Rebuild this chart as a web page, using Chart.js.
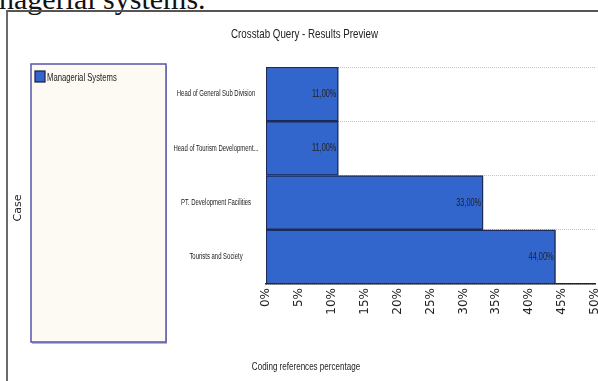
<!DOCTYPE html>
<html>
<head>
<meta charset="utf-8">
<script src="https://cdn.jsdelivr.net/npm/chart.js@4.4.0/dist/chart.umd.min.js"></script>
<style>
  body { margin: 0; background: #fff; width: 598px; height: 381px; overflow: hidden; position: relative; }
  #heading { position: absolute; left: -1px; top: -16px; font: 30px/30px 'Liberation Serif', serif; color: #111; white-space: nowrap; }
  #frame { position: absolute; left: 6px; top: 10px; width: 600px; height: 380px; border-left: 2px solid #6a6a6a; border-top: 2px solid #555; }
  #chart { position: absolute; left: 0; top: 0; }
</style>
</head>
<body>
<div id="heading">nagerial systems.</div>
<div id="frame"></div>
<canvas id="chart" width="598" height="381"></canvas>
<script>
let cases = [
    'Head of General Sub Division',
    'Head of Tourism Development...',
    'PT. Development Facilities',
    'Tourists and Society'
];
let managerialSystems = [11, 11, 33, 44];
let percentTicks = [0, 5, 10, 15, 20, 25, 30, 35, 40, 45, 50];

let chartTitle = 'Crosstab Query - Results Preview';
let xTitle = 'Coding references percentage';
let yTitle = 'Case';
let seriesName = 'Managerial Systems';

let barBlue = '#3366cc';
let barEdge = '#1e2b58';
let textColor = '#222';

// condensed text: no narrow font installed, so squeeze Liberation Sans horizontally
function narrowText(ctx, text, x, y, size, squeeze, align) {
    ctx.save();
    ctx.translate(x, y);
    ctx.scale(squeeze, 1);
    ctx.font = size + 'px "Liberation Sans", Arial, sans-serif';
    ctx.textAlign = align;
    ctx.fillStyle = textColor;
    ctx.fillText(text, 0, 0);
    ctx.restore();
}

// legend panel, titles and category names
let decorations = {
    id: 'decorations',
    beforeDraw(chart) {
        let ctx = chart.ctx;
        ctx.save();
        ctx.shadowColor = 'rgba(90, 90, 170, 0.45)';
        ctx.shadowOffsetX = 1;
        ctx.shadowOffsetY = 2;
        ctx.fillStyle = '#fdf9f3';
        ctx.fillRect(31, 64, 135, 278);
        ctx.shadowColor = 'transparent';
        ctx.strokeStyle = '#5656a8';
        ctx.lineWidth = 1.5;
        ctx.strokeRect(31, 64, 135, 278);

        ctx.fillStyle = barBlue;
        ctx.fillRect(35, 71, 10, 11);
        ctx.strokeStyle = '#1a1a40';
        ctx.lineWidth = 1.2;
        ctx.strokeRect(35, 71, 10, 11);
        ctx.restore();

        ctx.textBaseline = 'alphabetic';
        narrowText(ctx, seriesName, 47, 81, 11, 0.7, 'left');
        narrowText(ctx, chartTitle, 304.5, 38, 13, 0.75, 'center');
        narrowText(ctx, xTitle, 306, 369.5, 11.5, 0.7, 'center');

        // category names centred left of the bars
        let yScale = chart.scales.y;
        ctx.textBaseline = 'middle';
        cases.forEach((name, i) => {
            narrowText(ctx, name, 216, yScale.getPixelForValue(i), 8.5, 0.7, 'center');
        });

        // vertical axis caption
        ctx.save();
        ctx.translate(18, 208);
        ctx.rotate(-Math.PI / 2);
        ctx.fillStyle = textColor;
        ctx.font = '11px "DejaVu Sans", sans-serif';
        ctx.textAlign = 'center';
        ctx.textBaseline = 'middle';
        ctx.fillText(yTitle, 0, 0);
        ctx.restore();
    }
};

// percentage written at the end of each bar
let barValues = {
    id: 'barValues',
    afterDatasetsDraw(chart) {
        let ctx = chart.ctx;
        let meta = chart.getDatasetMeta(0);
        ctx.save();
        ctx.textBaseline = 'middle';
        meta.data.forEach((bar, i) => {
            let text = managerialSystems[i].toFixed(2).replace('.', ',') + '%';
            narrowText(ctx, text, bar.x - 2, bar.y, 10.5, 0.7, 'right');
        });
        ctx.restore();
    }
};

let crosstab = new Chart(document.getElementById('chart').getContext('2d'), {
    type: 'bar',
    data: {
        labels: cases,
        datasets: [{
            label: seriesName,
            data: managerialSystems,
            backgroundColor: barBlue,
            borderColor: barEdge,
            borderWidth: 1.5,
            borderSkipped: false,
            barPercentage: 1,
            categoryPercentage: 1
        }]
    },
    options: {
        indexAxis: 'y',
        responsive: false,
        animation: false,
        layout: {
            padding: { left: 12, right: 3, top: 67, bottom: 37 }
        },
        scales: {
            x: {
                min: 0,
                max: 50,
                afterBuildTicks: (scale) => {
                    scale.ticks = percentTicks.map(v => ({ value: v }));
                },
                afterFit: (scale) => {
                    scale.height = 60;
                    scale.paddingLeft = 0;
                    scale.paddingRight = 0;
                },
                grid: { display: false, drawTicks: false },
                border: { display: true, color: '#222', width: 1.5 },
                ticks: {
                    minRotation: 90,
                    maxRotation: 90,
                    padding: 4,
                    color: textColor,
                    font: { family: '"DejaVu Sans", sans-serif', size: 12 },
                    callback: (v) => v + '%'
                }
            },
            y: {
                afterFit: (scale) => {
                    scale.width = 254;
                },
                grid: {
                    color: '#c4c4c4',
                    drawTicks: false,
                    lineWidth: 1
                },
                border: { display: false, dash: [1, 1] },
                ticks: { display: false }
            }
        },
        plugins: {
            legend: { display: false },
            tooltip: { enabled: false },
            title: { display: false }
        }
    },
    plugins: [decorations, barValues]
});
</script>
</body>
</html>
